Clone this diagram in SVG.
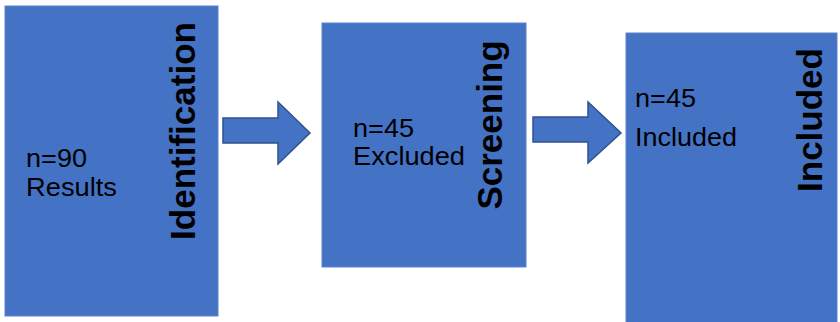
<svg xmlns="http://www.w3.org/2000/svg" width="840" height="322" viewBox="0 0 840 322">
  <style>
    .box { fill: #4472C4; stroke: #5b83cc; stroke-width: 1; }
    .arrow { fill: #4472C4; stroke: #2F528F; stroke-width: 1.5; stroke-linejoin: miter; }
    .body { font-family: "Liberation Sans", Arial, sans-serif; font-size: 25px; fill: #000; }
    .stage { font-family: "Liberation Sans", Arial, sans-serif; font-size: 35px; font-weight: bold; fill: #000; text-anchor: middle; }
  </style>
  <rect width="840" height="322" fill="#ffffff"/>

  <g id="identification">
    <rect class="box" x="5" y="6" width="213" height="310"/>
    <text class="body" x="26" y="167" textLength="61" lengthAdjust="spacingAndGlyphs">n=90</text>
    <text class="body" x="26" y="196" textLength="91" lengthAdjust="spacingAndGlyphs">Results</text>
    <text class="stage" transform="translate(195,131) rotate(-90)">Identification</text>
  </g>

  <g id="screening">
    <rect class="box" x="322" y="23" width="204" height="244"/>
    <text class="body" x="353" y="137" textLength="61" lengthAdjust="spacingAndGlyphs">n=45</text>
    <text class="body" x="353" y="165" textLength="112" lengthAdjust="spacingAndGlyphs">Excluded</text>
    <text class="stage" transform="translate(502,125) rotate(-90)">Screening</text>
  </g>

  <g id="included">
    <rect class="box" x="626" y="33" width="211" height="290"/>
    <text class="body" x="635" y="107" textLength="61" lengthAdjust="spacingAndGlyphs">n=45</text>
    <text class="body" x="635" y="146" textLength="102" lengthAdjust="spacingAndGlyphs">Included</text>
    <text class="stage" transform="translate(822,120) rotate(-90)">Included</text>
  </g>

  <g id="connectors">
    <polygon class="arrow" points="223,118 278,118 278,102 310,133 278,164 278,143 223,143"/>
    <polygon class="arrow" points="533,117 588,117 588,102 621,133 588,163 588,142 533,142"/>
  </g>
</svg>
